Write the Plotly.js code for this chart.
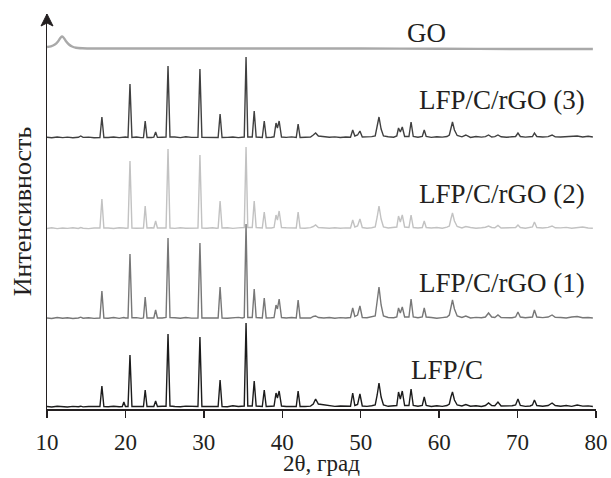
<!DOCTYPE html>
<html>
<head>
<meta charset="utf-8">
<script src="https://cdn.plot.ly/plotly-3.0.1.min.js"></script>
<style>
  html, body { margin: 0; padding: 0; background: #fff; }
  #chart { width: 611px; height: 478px; }
</style>
</head>
<body>
<div id="chart"></div>
<script>
// ---- data (2θ in degrees, intensities in arbitrary units above each pattern's baseline) ----
const twoTheta = [
  10, 10.6, 11.3, 12.0, 12.6, 13.3, 14.0, 14.3, 14.6, 15.3, 16.0,
  16.75, 17.0, 17.25,
  17.8, 18.5, 19.2, 19.6, 19.8, 20.0,
  20.33, 20.58, 20.83,
  21.4, 22.0,
  22.3, 22.52, 22.75,
  23.3, 23.62, 23.85, 24.08,
  24.7, 25.18, 25.43, 25.68,
  26.3, 27.0, 27.7, 28.4,
  29.25, 29.5, 29.75,
  30.4, 31.1, 31.6,
  31.82, 32.07, 32.32,
  33.0, 33.7, 34.4, 34.9,
  35.15, 35.38, 35.6,
  36.17, 36.42, 36.67,
  37.45, 37.7, 37.95,
  38.6, 38.95, 39.2, 39.38, 39.6, 39.9,
  40.5, 41.2,
  41.78, 42.02, 42.27,
  42.9, 43.6, 43.95, 44.25, 44.6,
  45.3, 46.0, 46.7, 47.4, 48.1,
  48.7, 48.98, 49.25, 49.6, 49.9, 50.2,
  50.8, 51.4,
  51.85, 52.1, 52.33, 52.6, 52.9,
  53.5, 54.2,
  54.6, 54.82, 55.05, 55.3, 55.6,
  56.15, 56.42, 56.7,
  57.3, 57.85, 58.1, 58.35,
  59.0, 59.7, 60.4, 61.0,
  61.3, 61.5, 61.7, 61.95, 62.3,
  62.9, 63.4, 64.0, 64.7, 65.4, 65.9,
  66.3, 66.7, 67.1, 67.5, 67.9,
  68.6, 69.3,
  69.75, 70.05, 70.35,
  71.0, 71.6,
  71.9, 72.15, 72.45,
  73.2, 73.9, 74.4, 74.8,
  75.5, 76.2, 76.9, 77.6, 78.3, 79.0, 79.6
];

const iLFPC = [
  0.5, 0, 0.8, 0.3, 0, 0.6, 0.2, 0.8, 0.1, 0.5, 0.3,
  0.5, 21, 0.5,
  0.3, 0.8, 0.2, 0.5, 5, 0.5,
  0.5, 52, 0.5,
  0.4, 0.8,
  0.5, 17, 0.5,
  0.6, 0.5, 6, 0.5,
  0.8, 0.8, 73, 1,
  0.5, 0.3, 0.9, 0.4,
  0.5, 70, 0.5,
  0.5, 0.3, 0.8,
  0.5, 27, 0.5,
  0.3, 1.2, 0.5, 0.8,
  1, 84, 1,
  1, 26, 1,
  0.5, 17, 0.5,
  0.8, 1, 14, 9, 16, 1,
  0.5, 0.9,
  0.5, 16, 0.5,
  0.5, 0.9, 3, 8, 3,
  2, 1.2, 0.6, 1, 0.5,
  0.8, 14, 1.5, 2.5, 13, 1,
  0.6, 1.2,
  2, 12, 24, 10, 2,
  0.7, 1.2,
  1.5, 15, 8, 16, 1.5,
  1.5, 18, 1.5,
  0.8, 1.5, 10, 1.5,
  0.5, 1.2, 0.6, 1.5,
  3, 10, 15, 7, 2,
  1, 2.5, 0.8, 1.2, 0.5, 1.5,
  4, 1.5, 1.2, 5, 1,
  0.8, 1.2,
  2, 8, 1.5,
  0.6, 1,
  2, 7, 1.5,
  0.8, 1.5, 4, 1.5,
  0.8, 1.5, 0.6, 2, 0.9, 1.1, 0.5
];

const iRGO1 = [
  1, 0.5, 1.5, 0.8, 1.2, 0.5, 1, 1.8, 0.8, 1.2, 0.6,
  1, 28, 1,
  0.8, 1.5, 0.6, 1.2, 1.5, 1,
  1, 65, 1.2,
  1.4, 0.6,
  1, 22, 1,
  0.8, 1, 9, 1,
  1, 1.5, 81, 1.5,
  1.2, 0.7, 1.5, 0.9,
  1, 76, 1,
  1.2, 0.8, 1.5,
  1, 32, 1,
  0.8, 1.2, 1.6, 1,
  1.5, 95, 1.5,
  1.5, 30, 1.5,
  1, 21, 1,
  1.2, 1.5, 14, 10, 20, 1.5,
  1, 1.5,
  1, 19, 1,
  1.2, 1, 2.5, 3, 1.5,
  1, 1.5, 0.8, 1.4, 1,
  1.5, 11, 2.5, 4, 13, 1.5,
  1.2, 1.8,
  3, 18, 32, 14, 3,
  1.5, 1.2,
  2, 11, 6, 12, 2,
  2, 20, 2,
  1.2, 2, 11, 2,
  1.5, 0.8, 1.4, 2,
  4, 12, 19, 10, 3,
  1.5, 3, 1, 1.6, 1.2, 2,
  6, 2, 1.5, 4, 1.5,
  1.5, 1.2,
  2, 7, 2,
  1.2, 1.8,
  2, 9, 2,
  1.4, 2, 4, 1.8,
  1.5, 1, 2, 2.5, 1.2, 1.5, 1
];

const iRGO2 = [
  0.5, 1.2, 0.4, 1, 0.6, 1.3, 0.5, 1.5, 0.8, 0.4, 1,
  1, 30, 1,
  1, 0.5, 1.3, 0.6, 1, 0.8,
  1, 68, 1,
  0.7, 1.2,
  1, 23, 1,
  1.2, 1, 8, 1,
  1, 1, 80, 1,
  0.6, 1.3, 0.7, 1.1,
  1, 74, 1,
  0.7, 1.2, 0.8,
  1, 28, 1,
  1.3, 0.6, 1.1, 1.5,
  1.5, 82, 1.5,
  1.5, 28, 1.5,
  1, 17, 1,
  1, 1.5, 14, 9, 18, 1.5,
  1.2, 0.7,
  1, 17, 1,
  0.8, 1.4, 2.5, 4, 1.5,
  1.2, 0.7, 1.3, 0.8, 1.1,
  1, 9, 2, 3, 10, 1.5,
  0.8, 1.3,
  2, 12, 23, 10, 2,
  1, 1.6,
  2, 13, 7, 14, 2,
  1.5, 14, 1.5,
  1, 1.5, 8, 1.5,
  1, 1.5, 0.7, 1.8,
  3, 10, 16, 8, 2.5,
  1, 2.5, 1.5, 0.8, 1.3, 1.8,
  3, 1.5, 1.2, 3.5, 1,
  1, 1.4,
  1.5, 4, 1.5,
  0.8, 1.4,
  2, 7, 1.5,
  1, 1.6, 3, 1.2,
  1.1, 1.6, 0.8, 1.5, 2, 1, 0.8
];

const iRGO3 = [
  0.8, 0.2, 1, 0.4, 0.9, 0.3, 0.7, 2, 0.6, 0.9, 0.3,
  0.5, 21, 0.5,
  0.5, 1, 0.4, 0.8, 0.5, 1,
  0.5, 54, 0.5,
  1, 0.4,
  0.5, 17, 0.5,
  0.5, 0.8, 6, 0.6,
  0.8, 1, 72, 1,
  1, 0.4, 1.2, 0.6,
  0.7, 69, 0.7,
  0.8, 0.5, 1,
  0.5, 24, 0.5,
  0.6, 1, 0.4, 1.2,
  1, 81, 1,
  1, 27, 1,
  0.5, 17, 0.5,
  0.8, 1.2, 15, 10, 17, 1,
  0.6, 1.1,
  0.5, 14, 0.5,
  0.6, 1, 3, 5, 2,
  1.5, 0.8, 1.1, 0.5, 1,
  0.8, 8, 2, 3, 7, 1,
  1, 1.4,
  2, 11, 21, 9, 2,
  1.2, 0.8,
  2, 10, 6, 11, 1.5,
  1.5, 16, 1.5,
  0.8, 1.5, 8, 1.5,
  0.6, 1.3, 0.9, 1.5,
  3, 10, 16, 8, 2.5,
  1.2, 3, 0.6, 1.5, 0.9, 1.4,
  3, 1, 1.4, 3, 1.2,
  0.7, 1.3,
  1.5, 5, 1.5,
  0.9, 1.2,
  1.5, 5, 1.5,
  1, 1.4, 3, 1.1,
  1, 1.2, 1.5, 2, 1, 1.8, 1
];

const goTheta = [10, 10.5, 11.0, 11.4, 11.7, 11.9, 12.1, 12.4, 12.8, 13.2, 13.7, 14.5, 16, 20, 30, 40, 50, 60, 70, 79.6];
const iGO     = [1.5, 2.2, 4, 7, 10.5, 12, 11, 7.5, 4, 2, 0.8, 0.3, 0, 0, 0, 0, 0, -0.3, -0.5, -0.5];

const sampleNames = ['LFP/C', 'LFP/C/rGO (1)', 'LFP/C/rGO (2)', 'LFP/C/rGO (3)', 'GO'];
const xTicks = [10, 20, 30, 40, 50, 60, 70, 80];
const xTitle = '2θ, град';
const yTitle = 'Интенсивность';

// ---- presentation (stack offsets, colours, label placement) ----
const offsets = [2, 90, 180, 271, 360.5];
const colors  = ['#1c1c1c', '#777777', '#c2c2c2', '#404040', '#a9a9a9'];
const widths  = [1.4, 1.4, 1.4, 1.4, 2.4];
const labelPos = [
  {x: 61.0, y: 39, xanchor: 'center'},
  {x: 78.9, y: 126, xanchor: 'right'},
  {x: 78.9, y: 215, xanchor: 'right'},
  {x: 78.9, y: 309, xanchor: 'right'},
  {x: 58.4, y: 376, xanchor: 'center'}
];

const series = [iLFPC, iRGO1, iRGO2, iRGO3];
const traces = [];
series.forEach((ys, k) => {
  if (ys.length !== twoTheta.length) console.error('length mismatch', k, ys.length, twoTheta.length);
  traces.push({
    type: 'scatter', mode: 'lines', name: sampleNames[k],
    x: twoTheta, y: ys.map(v => v + offsets[k]),
    line: {color: colors[k], width: widths[k]}, hoverinfo: 'skip'
  });
});
traces.push({
  type: 'scatter', mode: 'lines', name: sampleNames[4],
  x: goTheta, y: iGO.map(v => v + offsets[4]),
  line: {color: colors[4], width: widths[4], shape: 'spline', smoothing: 0.6}, hoverinfo: 'skip'
});

const FONT = 'Liberation Serif, Times New Roman, serif';
const INK = '#231f20';

const annotations = sampleNames.map((t, k) => ({
  text: t, x: labelPos[k].x, y: labelPos[k].y, xref: 'x', yref: 'y',
  xanchor: labelPos[k].xanchor, yanchor: 'middle', showarrow: false,
  font: {family: FONT, size: 27, color: INK}
}));
// x-axis title (placed as an annotation so it can sit just above the bottom edge)
annotations.push({
  text: xTitle, xref: 'paper', yref: 'paper', x: 0.5, y: -0.138,
  xanchor: 'center', yanchor: 'middle', showarrow: false,
  font: {family: FONT, size: 23, color: INK}
});

// arrow head on top of the intensity axis (paper coordinates, not clipped)
const W = 549, H = 395;           // plot area size in px
const hx = 6 / W, hl = 12 / H, notch = 3 / H;
const arrowPath = `M 0 1 L ${-hx} ${1 - hl} L 0 ${1 - hl + notch} L ${hx} ${1 - hl} Z`;

const layout = {
  width: 611, height: 478,
  margin: {l: 47, r: 15, t: 14, b: 69},
  paper_bgcolor: '#fff', plot_bgcolor: '#fff',
  showlegend: false,
  xaxis: {
    range: [10, 80], tickvals: xTicks, ticktext: xTicks.map(String),
    ticks: 'outside', ticklen: 7, tickwidth: 1.5, tickcolor: INK,
    showline: true, linewidth: 1.5, linecolor: INK,
    showgrid: false, zeroline: false, ticklabelstandoff: 5,
    tickfont: {family: FONT, size: 23, color: INK}
  },
  yaxis: {
    range: [0, 395], showticklabels: false, ticks: '',
    showline: true, linewidth: 1.5, linecolor: INK,
    showgrid: false, zeroline: false,
    title: {text: yTitle, font: {family: FONT, size: 26, color: INK}, standoff: 6}
  },
  shapes: [{
    type: 'path', xref: 'paper', yref: 'paper', path: arrowPath,
    fillcolor: INK, line: {color: INK, width: 1}, layer: 'above'
  }],
  annotations: annotations
};

Plotly.newPlot('chart', traces, layout, {staticPlot: true, displayModeBar: false});
</script>
</body>
</html>
